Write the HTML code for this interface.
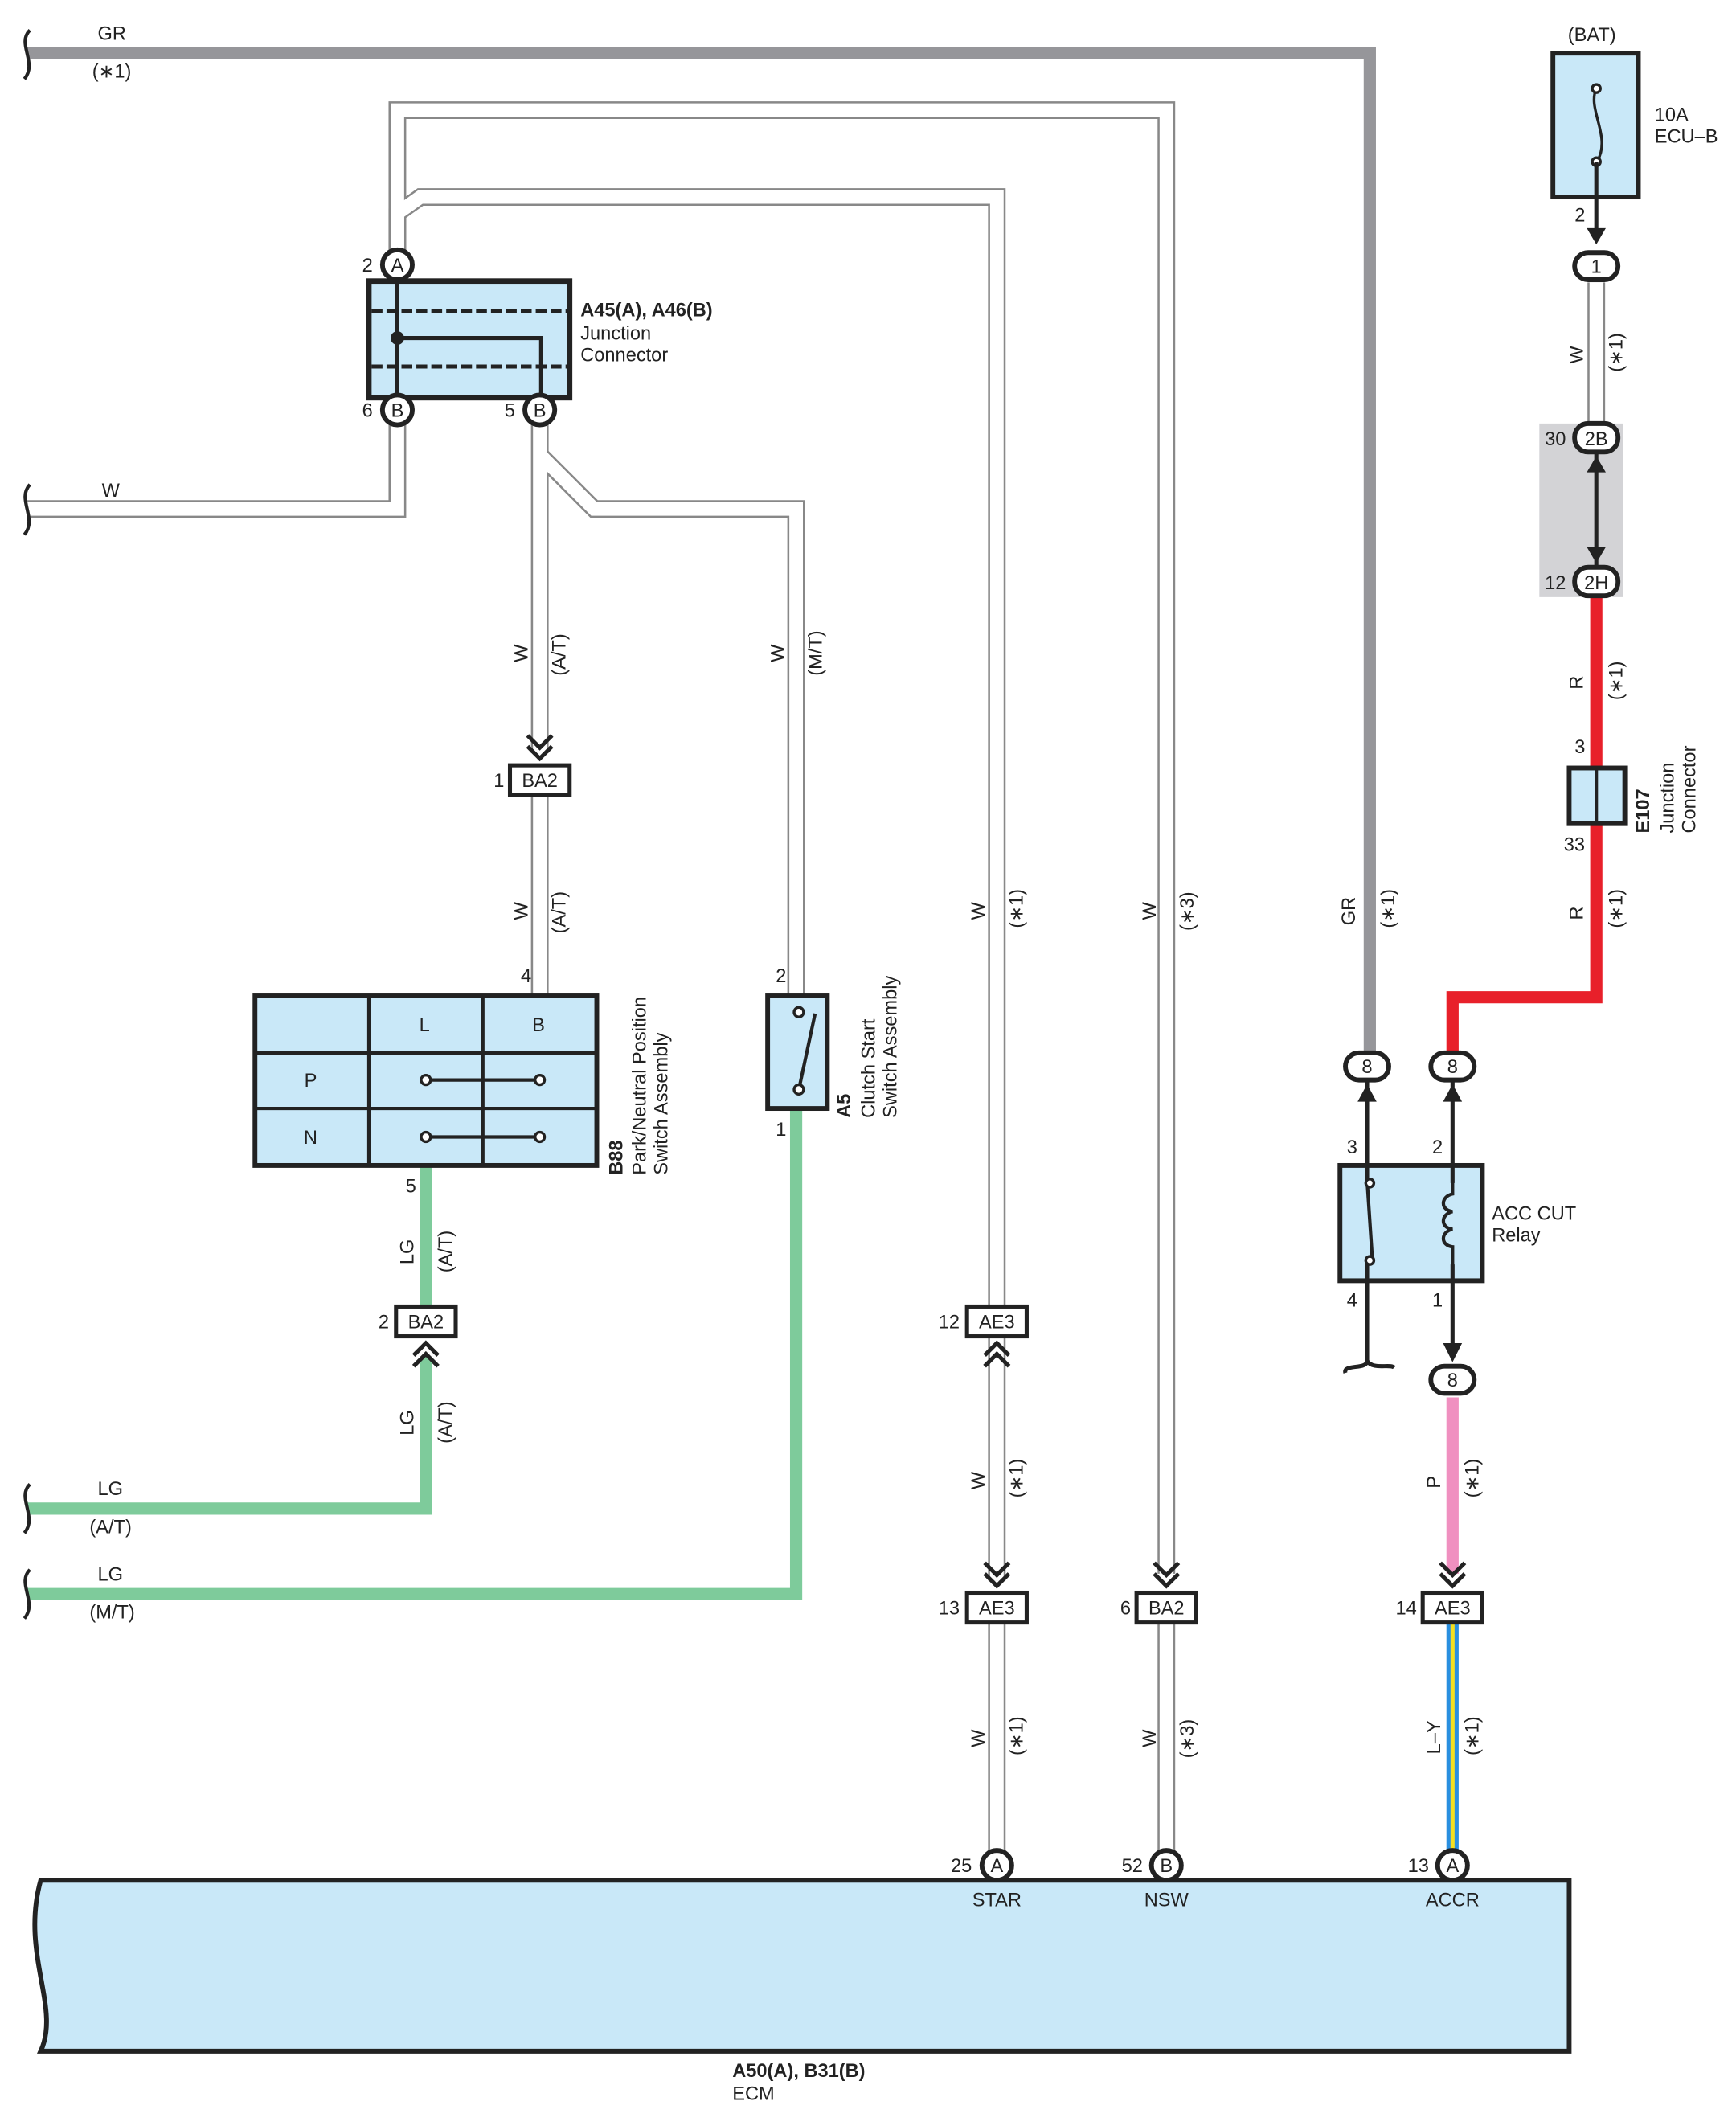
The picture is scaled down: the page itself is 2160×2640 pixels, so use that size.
<!DOCTYPE html>
<html><head><meta charset="utf-8"><style>
html,body{margin:0;padding:0;background:#fff;}
svg{display:block;}
text{font-family:"Liberation Sans",sans-serif;font-size:14px;fill:#222;}
</style></head><body>
<svg width="2160" height="2640" viewBox="0 0 1280 1564" xmlns="http://www.w3.org/2000/svg">
<defs>
<g id="dn"><polyline points="-9,-22 0,-13 9,-22" fill="none" stroke="#222" stroke-width="3"/><polyline points="-9,-14 0,-5 9,-14" fill="none" stroke="#222" stroke-width="3"/></g>
<g id="up"><polyline points="-9,22 0,13 9,22" fill="none" stroke="#222" stroke-width="3"/><polyline points="-9,14 0,5 9,14" fill="none" stroke="#222" stroke-width="3"/></g>
</defs>
<g fill="none" stroke-linejoin="miter">
<g stroke="#888" stroke-width="13">
<path d="M293,195 V81 H860 V1160"/>
<path d="M293,190 V157 L310,145 H735 V965"/>
<path d="M20,375 H293 V305"/>
<path d="M398,305 V555"/>
<path d="M398,335 L438,375 H587 V735"/>
<path d="M398,587 V733"/>
<path d="M735,986 V1165"/>
<path d="M735,1197 V1375"/>
<path d="M860,1197 V1375"/>
<path d="M1177,208 V322"/>
</g>
<g stroke="#fff" stroke-width="10">
<path d="M293,195 V81 H860 V1160"/>
<path d="M293,190 V157 L310,145 H735 V965"/>
<path d="M20,375 H293 V305"/>
<path d="M398,305 V555"/>
<path d="M398,335 L438,375 H587 V735"/>
<path d="M398,587 V733"/>
<path d="M735,986 V1165"/>
<path d="M735,1197 V1375"/>
<path d="M860,1197 V1375"/>
<path d="M1177,208 V322"/>
</g>
<path d="M20,39 H1010 V775" stroke="#96969a" stroke-width="9"/>
<g stroke="#7ecb9b" stroke-width="9">
<path d="M314,860 V965"/>
<path d="M314,1000 V1112 H20"/>
<path d="M587,818 V1175 H20"/>
</g>
<g stroke="#e8202a" stroke-width="9">
<path d="M1177,440 V565"/>
<path d="M1177,607 V735 H1071 V775"/>
</g>
<path d="M1071,1030 V1160" stroke="#f090c0" stroke-width="9"/>
<path d="M1071,1197 V1375" stroke="#2a8fe0" stroke-width="9"/>
<path d="M1071,1197 V1375" stroke="#f5e020" stroke-width="3"/>
</g>
<g fill="none" stroke="#222" stroke-width="2.5">
<path d="M22,22 C12,32 28,46 18,58"/>
<path d="M22,357 C12,368 28,382 18,394"/>
<path d="M22,1094 C12,1104 28,1118 18,1130"/>
<path d="M22,1157 C12,1167 28,1181 18,1193"/>
</g>
<rect x="272" y="207" width="148" height="86" fill="#c9e8f8" stroke="#222" stroke-width="4"/>
<g stroke="#222" stroke-width="3" fill="none">
<line x1="274" y1="229" x2="418" y2="229" stroke-dasharray="8,3"/>
<line x1="274" y1="270" x2="418" y2="270" stroke-dasharray="8,3"/>
<path d="M293,207 V293 M293,249 H399 V293"/>
</g>
<circle cx="293" cy="249" r="5" fill="#222"/>
<g stroke="#222" stroke-width="3.5" fill="#fff">
<circle cx="293" cy="195" r="11"/><circle cx="293" cy="302" r="11"/><circle cx="398" cy="302" r="11"/>
<circle cx="735" cy="1375" r="11"/><circle cx="860" cy="1375" r="11"/><circle cx="1071" cy="1375" r="11"/>
</g>
<g text-anchor="middle">
<text x="293" y="200">A</text><text x="293" y="307">B</text><text x="398" y="307">B</text>
<text x="735" y="1380">A</text><text x="860" y="1380">B</text><text x="1071" y="1380">A</text>
</g>
<text x="267" y="200">2</text><text x="267" y="307">6</text><text x="372" y="307">5</text>
<text x="428" y="233" font-weight="bold">A45(A), A46(B)</text>
<text x="428" y="250">Junction</text><text x="428" y="266">Connector</text>
<g stroke="#222" stroke-width="3" fill="#fff">
<rect x="376" y="564" width="44" height="22"/>
<rect x="292" y="963" width="44" height="22"/>
<rect x="713" y="963" width="44" height="22"/>
<rect x="713" y="1174" width="44" height="22"/>
<rect x="838" y="1174" width="44" height="22"/>
<rect x="1049" y="1174" width="44" height="22"/>
</g>
<g text-anchor="middle">
<text x="398" y="580">BA2</text><text x="314" y="979">BA2</text><text x="735" y="979">AE3</text>
<text x="735" y="1190">AE3</text><text x="860" y="1190">BA2</text><text x="1071" y="1190">AE3</text>
</g>
<text x="364" y="580">1</text><text x="279" y="979">2</text><text x="692" y="979">12</text>
<text x="692" y="1190">13</text><text x="826" y="1190">6</text><text x="1029" y="1190">14</text>
<use href="#dn" x="398" y="564"/>
<use href="#up" x="314" y="985"/>
<use href="#up" x="735" y="985"/>
<use href="#dn" x="735" y="1174"/>
<use href="#dn" x="860" y="1174"/>
<use href="#dn" x="1071" y="1174"/>
<rect x="188" y="734" width="252" height="125" fill="#c9e8f8" stroke="#222" stroke-width="3.5"/>
<g stroke="#222" stroke-width="2.5">
<line x1="272" y1="734" x2="272" y2="859"/><line x1="356" y1="734" x2="356" y2="859"/>
<line x1="188" y1="776" x2="440" y2="776"/><line x1="188" y1="817" x2="440" y2="817"/>
<line x1="314" y1="796" x2="398" y2="796"/><line x1="314" y1="838" x2="398" y2="838"/>
</g>
<g fill="#fff" stroke="#222" stroke-width="2"><circle cx="314" cy="796" r="3.5"/><circle cx="398" cy="796" r="3.5"/><circle cx="314" cy="838" r="3.5"/><circle cx="398" cy="838" r="3.5"/></g>
<g text-anchor="middle"><text x="313" y="760">L</text><text x="397" y="760">B</text><text x="229" y="801">P</text><text x="229" y="843">N</text></g>
<text x="384" y="724">4</text><text x="299" y="879">5</text>
<text transform="translate(459,866) rotate(-90)" font-weight="bold">B88</text>
<text transform="translate(476,866) rotate(-90)">Park/Neutral Position</text>
<text transform="translate(492,866) rotate(-90)">Switch Assembly</text>
<rect x="566" y="734" width="44" height="83" fill="#c9e8f8" stroke="#222" stroke-width="3.5"/>
<path d="M589,745 V750 M589,803 L601,747" stroke="#222" stroke-width="2.5" fill="none"/>
<g fill="#fff" stroke="#222" stroke-width="2"><circle cx="589" cy="746" r="3.5"/><circle cx="589" cy="803" r="3.5"/></g>
<text x="572" y="724">2</text><text x="572" y="837">1</text>
<text transform="translate(627,824) rotate(-90)" font-weight="bold">A5</text>
<text transform="translate(645,824) rotate(-90)">Clutch Start</text>
<text transform="translate(661,824) rotate(-90)">Switch Assembly</text>
<text x="1156" y="30">(BAT)</text>
<rect x="1145" y="39" width="63" height="106" fill="#c9e8f8" stroke="#222" stroke-width="3.5"/>
<path d="M1177,65 C1170,80 1188,100 1178,118" fill="none" stroke="#222" stroke-width="2"/>
<g fill="#fff" stroke="#222" stroke-width="2"><circle cx="1177" cy="65" r="3"/><circle cx="1177" cy="119" r="3"/></g>
<line x1="1177" y1="119" x2="1177" y2="175" stroke="#222" stroke-width="3"/>
<polygon points="1170,168 1184,168 1177,180" fill="#222"/>
<text x="1220" y="89">10A</text><text x="1220" y="105">ECU–B</text>
<text x="1161" y="163">2</text>
<rect x="1161" y="186" width="32" height="20" rx="10" fill="#fff" stroke="#222" stroke-width="3.5"/>
<text x="1177" y="201" text-anchor="middle">1</text>
<rect x="1135" y="312" width="62" height="128" fill="#d3d3d6"/>
<line x1="1177" y1="333" x2="1177" y2="417" stroke="#222" stroke-width="3"/>
<polygon points="1170,348 1184,348 1177,336" fill="#222"/>
<polygon points="1170,403 1184,403 1177,415" fill="#222"/>
<rect x="1161" y="312" width="32" height="21" rx="10" fill="#fff" stroke="#222" stroke-width="3.5"/>
<rect x="1161" y="418" width="32" height="21" rx="10" fill="#fff" stroke="#222" stroke-width="3.5"/>
<text x="1177" y="328" text-anchor="middle">2B</text><text x="1177" y="434" text-anchor="middle">2H</text>
<text x="1139" y="328">30</text><text x="1139" y="434">12</text>
<rect x="1157" y="566" width="41" height="41" fill="#c9e8f8" stroke="#222" stroke-width="3.5"/>
<line x1="1177" y1="566" x2="1177" y2="607" stroke="#222" stroke-width="2.5"/>
<text x="1161" y="555">3</text><text x="1153" y="627">33</text>
<text transform="translate(1216,614) rotate(-90)" font-weight="bold">E107</text>
<text transform="translate(1234,614) rotate(-90)">Junction</text>
<text transform="translate(1250,614) rotate(-90)">Connector</text>
<rect x="992" y="776" width="32" height="20" rx="10" fill="#fff" stroke="#222" stroke-width="3.5"/>
<rect x="1055" y="776" width="32" height="20" rx="10" fill="#fff" stroke="#222" stroke-width="3.5"/>
<rect x="1055" y="1007" width="32" height="20" rx="10" fill="#fff" stroke="#222" stroke-width="3.5"/>
<g text-anchor="middle"><text x="1008" y="791">8</text><text x="1071" y="791">8</text><text x="1071" y="1022">8</text></g>
<g stroke="#222" stroke-width="3" fill="none">
<path d="M1008,797 V870 M1008,930 V1003 C1008,1010 990,1005 992,1012 M1008,1003 C1012,1010 1025,1005 1028,1008"/>
<path d="M1071,797 V875 M1071,920 V1000"/>
</g>
<polygon points="1001,812 1015,812 1008,799" fill="#222"/>
<polygon points="1064,812 1078,812 1071,799" fill="#222"/>
<polygon points="1064,990 1078,990 1071,1004" fill="#222"/>
<rect x="988" y="859" width="105" height="85" fill="#c9e8f8" stroke="#222" stroke-width="3.5"/>
<path d="M1008,870 L1012,930 M1071,870 V880 C1062,882 1062,892 1071,893 C1062,895 1062,905 1071,906 C1062,908 1062,918 1071,919 V935" stroke="#222" stroke-width="2.5" fill="none"/>
<path d="M1008,859 V872 M1008,930 V944 M1071,859 V872 M1071,932 V944" stroke="#222" stroke-width="3"/>
<g fill="#fff" stroke="#222" stroke-width="2"><circle cx="1010" cy="872" r="3"/><circle cx="1010" cy="929" r="3"/></g>
<text x="993" y="850">3</text><text x="1056" y="850">2</text><text x="993" y="963">4</text><text x="1056" y="963">1</text>
<text x="1100" y="899">ACC CUT</text><text x="1100" y="915">Relay</text>
<path d="M30,1386 H1157 V1512 H30 C45,1480 15,1440 30,1386 Z" fill="#c9e8f8" stroke="#222" stroke-width="3.5"/>
<text x="701" y="1380">25</text><text x="827" y="1380">52</text><text x="1038" y="1380">13</text>
<g text-anchor="middle"><text x="735" y="1405">STAR</text><text x="860" y="1405">NSW</text><text x="1071" y="1405">ACCR</text></g>
<text x="540" y="1531" font-weight="bold">A50(A), B31(B)</text><text x="540" y="1548">ECM</text>
<text x="72" y="29">GR</text><text x="68" y="57">(∗1)</text>
<text x="75" y="366">W</text>
<text x="72" y="1102">LG</text><text x="66" y="1130">(A/T)</text>
<text x="72" y="1165">LG</text><text x="66" y="1193">(M/T)</text>
<g>
<text transform="translate(389,488) rotate(-90)">W</text><text transform="translate(417,498) rotate(-90)">(A/T)</text>
<text transform="translate(389,678) rotate(-90)">W</text><text transform="translate(417,688) rotate(-90)">(A/T)</text>
<text transform="translate(305,932) rotate(-90)">LG</text><text transform="translate(333,938) rotate(-90)">(A/T)</text>
<text transform="translate(305,1058) rotate(-90)">LG</text><text transform="translate(333,1064) rotate(-90)">(A/T)</text>
<text transform="translate(578,488) rotate(-90)">W</text><text transform="translate(606,498) rotate(-90)">(M/T)</text>
<text transform="translate(726,678) rotate(-90)">W</text><text transform="translate(754,684) rotate(-90)">(∗1)</text>
<text transform="translate(726,1098) rotate(-90)">W</text><text transform="translate(754,1104) rotate(-90)">(∗1)</text>
<text transform="translate(726,1288) rotate(-90)">W</text><text transform="translate(754,1294) rotate(-90)">(∗1)</text>
<text transform="translate(852,678) rotate(-90)">W</text><text transform="translate(880,686) rotate(-90)">(∗3)</text>
<text transform="translate(852,1288) rotate(-90)">W</text><text transform="translate(880,1296) rotate(-90)">(∗3)</text>
<text transform="translate(999,682) rotate(-90)">GR</text><text transform="translate(1028,684) rotate(-90)">(∗1)</text>
<text transform="translate(1062,1097) rotate(-90)">P</text><text transform="translate(1090,1104) rotate(-90)">(∗1)</text>
<text transform="translate(1062,1293) rotate(-90)">L–Y</text><text transform="translate(1090,1294) rotate(-90)">(∗1)</text>
<text transform="translate(1167,268) rotate(-90)">W</text><text transform="translate(1196,274) rotate(-90)">(∗1)</text>
<text transform="translate(1167,508) rotate(-90)">R</text><text transform="translate(1196,516) rotate(-90)">(∗1)</text>
<text transform="translate(1167,678) rotate(-90)">R</text><text transform="translate(1196,684) rotate(-90)">(∗1)</text>
</g>
</svg>
</body></html>
